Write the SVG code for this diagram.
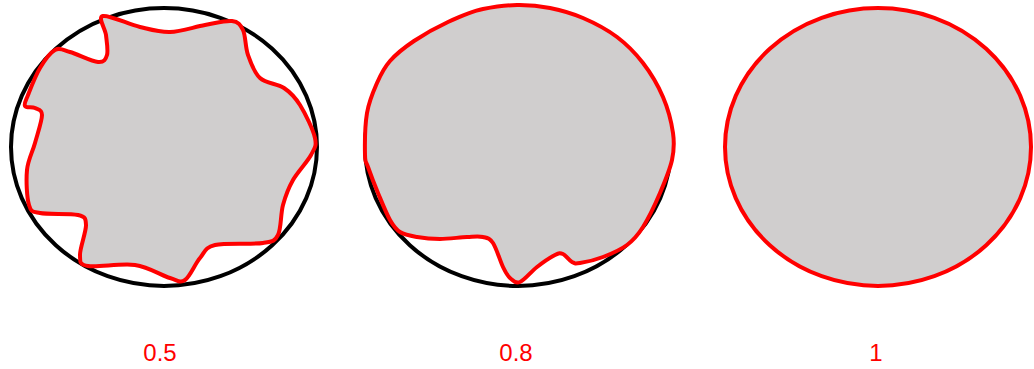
<svg xmlns="http://www.w3.org/2000/svg" width="1034" height="369" viewBox="0 0 1034 369">
<style>
.ref{fill:none;stroke:#000;stroke-width:4}
.shape{fill:#D0CECE;stroke:#FF0000;stroke-width:4;stroke-linejoin:round}
.lbl{font-family:"Liberation Sans",Arial,sans-serif;font-size:24px;fill:#FF0000;text-anchor:middle}
</style>
<rect width="1034" height="369" fill="#fff"/>
<g id="shape-05">
<ellipse class="ref" cx="164" cy="147" rx="153" ry="139"/>
<path class="shape" d="M103,16 C108.7,14.7 128.8,24.3 140,27 S159.2,32.3 170,32 S194.7,26.8 205,25 S225.7,20.2 232,21 S240.3,24.3 243,30 S245.2,47 248,55 S254,72.5 260,78 S277.3,83.5 284,88 S294.8,96.7 300,105 S313.2,129.7 315,138 S314.7,148 311,155 S297.7,171.7 293,180 S285.5,195.8 283,205 S281.3,228.7 278,235 S273.5,241.3 263,243 S225.5,242.5 215,245 S205,252.2 200,258 S190,276.7 185,280 S178.3,280.5 170,278 S148.7,267 135,265 S97.2,267.7 88,266 S80.3,261.8 80,255 S86.3,231.7 86,225 S85.7,217 78,215 S48.2,214.7 40,213 S31.2,212.2 29,205 S26,180.3 27,170 S32.5,152.2 35,143 S42,120.8 42,115 S37.8,109.5 35,108 S26.2,108.2 25,106 S25.5,101.3 28,95 S35.5,75.5 40,68 S50,52.7 55,50 S62.8,50 70,52 S91.8,61.5 98,62 S105.7,59.5 107,55 S106.7,41.5 106,35 S97.3,17.3 103,16 Z"/>
<text class="lbl" x="160" y="361">0.5</text>
</g>
<g id="shape-08">
<ellipse class="ref" cx="518" cy="147" rx="153" ry="139"/>
<path class="shape" d="M365,155 C364.8,146 365,125 367,113 S373.2,91.7 377,83 S383.8,68 390,61 S404.3,47.5 414,41 S436.5,27.3 448,22 S471.5,11.2 483,9 S505.8,5.2 517,5 S539,5.8 550,8 S571.8,13.2 583,18 S607,29.5 617,37 S635.3,53 643,63 S658,85.3 663,97 S671.5,122.5 673,133 S674.2,150 672,160 S664.8,181.8 660,193 S648.5,218.3 643,227 S633.7,240 627,245 S610.8,254 603,257 S585.2,262.2 580,263 S574.8,263.5 572,262 S565.8,255.2 563,254 S559.3,252.8 555,255 S542.8,262.5 537,267 S524.5,280.2 520,282 S512.8,280.5 510,278 S505.8,272.8 503,267 S496.3,248 493,243 S487.3,238 483,237 S474.2,236.7 467,237 S448.3,239 440,239 S423.7,238.2 417,237 S404.5,234.8 400,232 S393.7,226.5 390,220 S381.7,201.8 378,193 S370.2,173.3 368,167 S365.2,164 365,155 Z"/>
<text class="lbl" x="516" y="361">0.8</text>
</g>
<g id="shape-1">
<ellipse class="shape" cx="878" cy="147" rx="153" ry="139"/>
<text class="lbl" x="876" y="361">1</text>
</g>
</svg>
